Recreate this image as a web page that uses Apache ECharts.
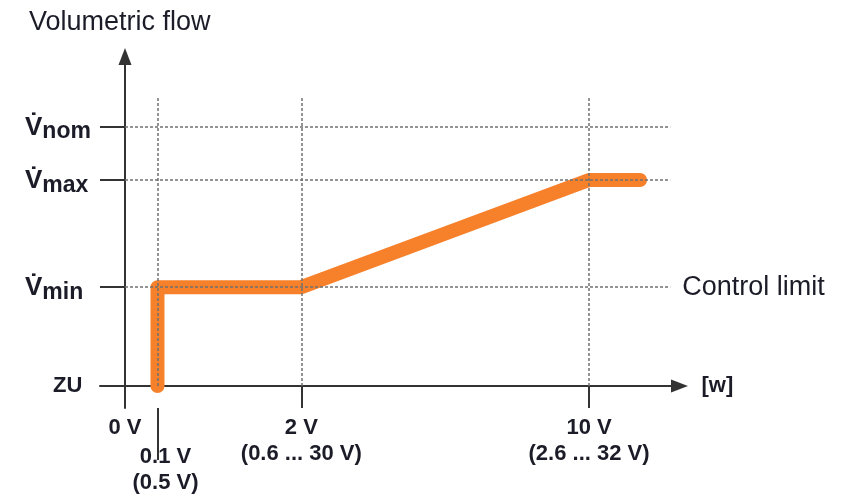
<!DOCTYPE html>
<html>
<head>
<meta charset="utf-8">
<script src="https://cdn.jsdelivr.net/npm/echarts@6/dist/echarts.min.js"></script>
<style>
  html, body { margin: 0; padding: 0; background: #fff; }
  #chart { width: 843px; height: 496px; }
</style>
</head>
<body>
<div id="chart"></div>
<script>
// Schematic positions of the signal levels along the horizontal axis
const xTicks = [0, 7, 38, 100];
const xLabels = ['0 V', '0.1 V\n(0.5 V)', '2 V\n(0.6 ... 30 V)', '10 V\n(2.6 ... 32 V)'];

// Flow levels on the vertical axis: ZU, V̇min, V̇max, V̇nom
const yLevels = [0, 48, 100, 126];
const yLabels = ['ZU', 'min', 'max', 'nom'];

// Characteristic curve of the volumetric flow
const flowX = [7, 7, 38, 100, 111];
const flowY = [0, 48, 48, 100, 100];

const TEXT = '#1c1c28';
const AXIS = '#333333';
const FONT = '"Liberation Sans", Arial, sans-serif';

const guideTop = 140;
const guideRight = 117.5;

const guideLines = [];
xTicks.slice(1).forEach(function (x) {
  guideLines.push([{ coord: [x, 0] }, { coord: [x, guideTop] }]);
});
yLevels.slice(1).forEach(function (y, i) {
  const pair = [{ coord: [0, y] }, { coord: [guideRight, y] }];
  if (i === 0) {
    pair[0].label = {
      show: true, position: 'end', formatter: 'Control limit',
      fontSize: 27, fontFamily: FONT, color: TEXT, distance: 12
    };
  }
  guideLines.push(pair);
});

const chart = echarts.init(document.getElementById('chart'));
chart.setOption({
  animation: false,
  title: {
    text: 'Volumetric flow',
    left: 24, top: 4,
    textStyle: { fontSize: 27, fontWeight: 'normal', fontFamily: FONT, color: TEXT }
  },
  grid: { left: 100, right: 163.5, top: 56.5, bottom: 88, containLabel: false, outerBoundsMode: 'none' },
  xAxis: [{
    type: 'value', min: -5.39, max: 119.5, position: 'bottom',
    splitLine: { show: false },
    axisLine: { show: true, onZero: true, symbol: ['none', 'triangle'], symbolSize: [13, 17],
      lineStyle: { color: AXIS, width: 2 } },
    axisTick: { show: true, length: 22, customValues: [xTicks[2], xTicks[3]],
      lineStyle: { color: AXIS, width: 2 } },
    axisLabel: {
      customValues: [xTicks[0], xTicks[2], xTicks[3]],
      margin: 7,
      formatter: function (v) { return xLabels[xTicks.indexOf(v)]; },
      fontSize: 22, fontWeight: 'bold', fontFamily: FONT, color: TEXT, lineHeight: 26
    },
    name: '[w]', nameLocation: 'end', nameGap: 22,
    nameTextStyle: { fontSize: 22, fontWeight: 'bold', fontFamily: FONT, color: TEXT, padding: [8, 0, 0, 0] }
  }, {
    type: 'value', min: -5.39, max: 119.5, position: 'bottom',
    splitLine: { show: false },
    axisLine: { show: false, onZero: true },
    axisTick: { show: true, length: 52, customValues: [xTicks[1]],
      lineStyle: { color: AXIS, width: 2 } },
    axisLabel: {
      customValues: [xTicks[1]],
      margin: 36,
      formatter: function (v) { return '{t|' + xLabels[1].split('\n').join('}\n{t|') + '}'; },
      rich: { t: { fontSize: 22, fontWeight: 'bold', fontFamily: FONT, color: TEXT, lineHeight: 26, padding: [0, 0, 0, 16] } }
    }
  }],
  yAxis: {
    type: 'value', min: -10.68, max: 160,
    splitLine: { show: false },
    axisLine: { show: true, onZero: true, symbol: ['none', 'triangle'], symbolSize: [13, 17],
      lineStyle: { color: AXIS, width: 2 } },
    axisTick: { show: true, length: 25, customValues: yLevels.slice(1),
      lineStyle: { color: AXIS, width: 2 } },
    axisLabel: {
      customValues: yLevels,
      margin: 75,
      align: 'left',
      formatter: function (v) {
        const i = yLevels.indexOf(v);
        if (i === 0) return '{z|' + yLabels[0] + '}';
        return '{v|V\u0307}{s|' + yLabels[i] + '}';
      },
      rich: {
        z: { fontSize: 22, fontWeight: 'bold', fontFamily: FONT, color: TEXT, padding: [0, 0, 0, 28] },
        v: { fontSize: 26, fontWeight: 'bold', fontFamily: FONT, color: TEXT, verticalAlign: 'bottom', lineHeight: 28 },
        s: { fontSize: 23, fontWeight: 'bold', fontFamily: FONT, color: TEXT, verticalAlign: 'bottom', lineHeight: 28, padding: [0, 0, -3, 0] }
      }
    }
  },
  series: [{
    name: 'guides',
    type: 'line',
    data: [],
    silent: true,
    z: 1,
    markLine: {
      silent: true,
      symbol: ['none', 'none'],
      animation: false,
      label: { show: false },
      lineStyle: { color: '#707070', width: 1.5, type: [3, 2] },
      data: guideLines
    }
  }, {
    name: 'flow',
    type: 'line',
    z: 3,
    showSymbol: false,
    data: flowX.map(function (x, i) { return [x, flowY[i]]; }),
    lineStyle: { color: '#f7802a', width: 14, cap: 'round', join: 'round' }
  }]
});
</script>
</body>
</html>
